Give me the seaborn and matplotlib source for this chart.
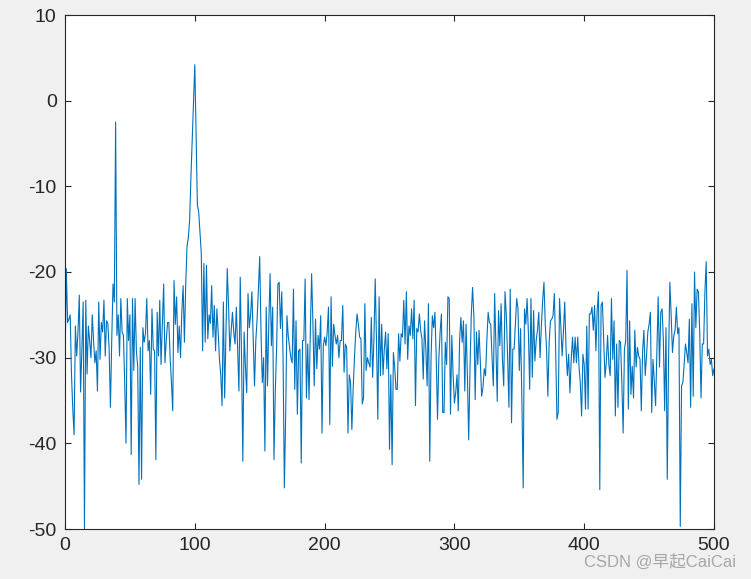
import numpy as np
import pandas as pd
import matplotlib
matplotlib.use("Agg")
import matplotlib.pyplot as plt
import seaborn as sns

# ---- data ----
vals_000_099 = [
    -31.5, -19.6, -25.9, -25.5, -25.0, -32.0, -36.0, -39.0, -26.3, -29.8,
    -27.0, -22.7, -34.0, -29.0, -23.5, -50.0, -23.3, -31.9, -26.3, -28.0,
    -30.0, -25.0, -28.0, -30.6, -29.2, -33.9, -23.5, -30.2, -25.9, -27.0,
    -23.3, -29.8, -25.7, -26.0, -29.0, -35.8, -28.0, -21.4, -23.5, -2.5,
    -27.4, -25.0, -29.8, -23.1, -27.0, -27.4, -33.0, -40.0, -23.1, -28.0,
    -25.0, -41.3, -23.1, -31.5, -23.1, -29.2, -31.0, -44.8, -28.8, -44.2,
    -26.5, -28.2, -27.2, -23.1, -29.2, -28.0, -34.3, -24.3, -29.0, -29.2,
    -41.9, -24.7, -29.8, -23.3, -30.8, -26.0, -21.4, -30.6, -28.0, -25.9,
    -25.9, -30.0, -32.9, -36.2, -21.0, -26.1, -22.9, -29.4, -26.3, -30.0,
    -24.7, -21.6, -28.2, -21.5, -17.0, -16.0, -14.0, -9.0, -4.5, 0.0,
]
vals_100_199 = [
    4.2, -4.0, -12.2, -13.0, -15.5, -17.8, -29.2, -19.0, -28.2, -19.2,
    -27.8, -25.0, -26.0, -21.6, -27.6, -23.9, -29.2, -24.3, -27.0, -30.2,
    -32.0, -35.6, -23.5, -34.7, -27.0, -19.6, -24.0, -29.2, -27.0, -24.7,
    -27.0, -28.4, -24.1, -29.0, -33.9, -20.6, -30.0, -42.1, -27.0, -31.0,
    -34.1, -22.5, -26.5, -25.0, -22.3, -28.0, -33.3, -28.0, -25.5, -22.0,
    -18.2, -27.0, -32.9, -30.0, -40.9, -24.1, -33.3, -26.0, -20.2, -28.6,
    -24.1, -41.9, -34.0, -29.0, -21.4, -21.2, -26.6, -22.3, -30.0, -45.2,
    -36.8, -25.1, -27.5, -28.7, -30.0, -30.6, -22.0, -33.7, -25.7, -36.6,
    -29.2, -29.0, -42.3, -28.0, -28.0, -20.8, -34.7, -28.4, -34.9, -27.0,
    -20.2, -26.0, -33.3, -25.5, -31.3, -27.4, -29.0, -25.1, -38.8, -28.6,
]
vals_200_299 = [
    -27.6, -28.6, -27.0, -24.1, -37.8, -22.9, -31.0, -26.1, -27.4, -28.4,
    -27.4, -30.0, -28.0, -28.0, -23.9, -31.7, -28.4, -28.8, -38.8, -32.0,
    -32.9, -38.4, -33.7, -30.0, -27.0, -24.9, -26.1, -27.6, -27.8, -35.4,
    -34.7, -23.7, -31.5, -30.0, -30.6, -31.1, -25.3, -32.3, -27.8, -20.8,
    -28.2, -37.2, -22.9, -32.1, -26.1, -32.0, -29.0, -27.0, -31.3, -27.2,
    -40.7, -32.0, -42.5, -29.4, -31.1, -33.7, -33.7, -27.2, -30.4, -27.2,
    -27.6, -23.3, -28.4, -22.3, -30.2, -26.3, -27.4, -24.3, -27.8, -23.3,
    -35.6, -26.6, -27.0, -24.9, -26.8, -27.8, -32.5, -25.7, -29.0, -33.3,
    -23.7, -42.1, -30.0, -25.1, -26.5, -24.7, -30.0, -37.2, -30.2, -27.0,
    -24.9, -36.4, -36.4, -28.2, -30.8, -22.9, -23.1, -36.6, -27.4, -32.0,
]
vals_300_399 = [
    -35.3, -34.1, -32.0, -36.2, -28.0, -25.3, -28.2, -25.7, -33.9, -26.1,
    -32.0, -39.6, -31.5, -25.0, -21.8, -25.1, -34.9, -27.0, -30.8, -26.8,
    -30.8, -34.5, -33.5, -31.3, -32.1, -28.0, -24.7, -25.9, -26.1, -30.0,
    -33.3, -22.5, -29.0, -35.1, -24.5, -28.6, -23.7, -30.2, -33.3, -22.3,
    -25.1, -30.0, -35.8, -22.0, -37.6, -29.0, -29.0, -26.0, -23.1, -24.3,
    -31.5, -26.6, -35.1, -45.2, -24.3, -26.1, -23.1, -27.0, -33.7, -23.1,
    -32.3, -24.5, -30.4, -28.0, -26.8, -24.7, -30.0, -26.3, -23.3, -21.2,
    -26.1, -29.0, -34.5, -28.2, -25.7, -25.5, -25.1, -22.5, -29.0, -37.2,
    -36.4, -23.1, -26.3, -29.8, -27.0, -23.5, -29.0, -32.1, -29.6, -34.1,
    -30.2, -27.6, -30.6, -27.6, -30.6, -27.6, -31.0, -33.0, -36.8, -29.6,
]
vals_400_500 = [
    -30.8, -36.0, -26.3, -36.0, -24.9, -24.9, -24.1, -26.8, -23.9, -29.2,
    -24.5, -22.3, -45.4, -23.9, -23.5, -28.0, -32.3, -30.6, -27.4, -30.8,
    -32.1, -23.1, -30.2, -25.7, -36.8, -28.4, -35.8, -28.0, -28.2, -32.9,
    -38.8, -29.0, -28.0, -19.8, -36.0, -25.7, -34.3, -31.0, -34.7, -26.8,
    -31.1, -28.8, -29.8, -30.2, -36.2, -29.2, -26.8, -32.1, -29.8, -27.0,
    -26.1, -24.7, -36.4, -30.2, -32.7, -35.6, -29.0, -22.9, -31.1, -24.7,
    -24.3, -28.0, -36.2, -26.5, -44.2, -30.2, -21.2, -25.1, -29.4, -27.5,
    -26.8, -24.1, -27.2, -26.5, -49.7, -33.3, -32.9, -30.8, -28.4, -29.4,
    -30.6, -25.5, -35.8, -23.7, -34.5, -20.0, -26.5, -22.0, -22.3, -27.0,
    -34.7, -28.4, -28.4, -22.3, -18.8, -29.8, -29.0, -30.8, -30.2, -32.1,
    -31.3,
]
x_ticks = [0, 100, 200, 300, 400, 500]
y_ticks = [-50, -40, -30, -20, -10, 0, 10]

values = vals_000_099 + vals_100_199 + vals_200_299 + vals_300_399 + vals_400_500
df = pd.DataFrame({"n": np.arange(len(values)), "db": values})

# ---- style ----
plt.rcParams["axes.unicode_minus"] = False
plt.rcParams["font.family"] = ["Liberation Sans", "Noto Sans CJK SC", "DejaVu Sans"]

W, H = 751, 579
fig = plt.figure(figsize=(W / 100, H / 100), dpi=100, facecolor="#f0f0f0")
ax = fig.add_axes([65 / W, 1 - 529 / H, (714 - 65) / W, (529 - 15) / H])
ax.set_facecolor("white")

sns.lineplot(data=df, x="n", y="db", ax=ax, color="#0072BD", linewidth=0.8)

ax.set_xlim(0, 500)
ax.set_ylim(-50, 10)
ax.set_xticks(x_ticks)
ax.set_yticks(y_ticks)
ax.set_xticklabels([str(t) for t in x_ticks])
ax.set_yticklabels([str(t) for t in y_ticks])
ax.set_xlabel("")
ax.set_ylabel("")

axis_col = "#262626"
for s in ax.spines.values():
    s.set_color(axis_col)
    s.set_linewidth(0.8)
ax.tick_params(direction="in", length=4.3, width=0.8, color=axis_col,
               labelcolor=axis_col, labelsize=14, top=True, right=True,
               pad=6)

fig.text(736 / W, 1 - 562 / H, "CSDN @早起CaiCai", ha="right", va="center",
         fontsize=12, color="#9a9a9a", alpha=0.85,
         family=["Liberation Sans", "Noto Sans CJK SC", "DejaVu Sans"])

fig.savefig("out.png", dpi=100, facecolor=fig.get_facecolor())
